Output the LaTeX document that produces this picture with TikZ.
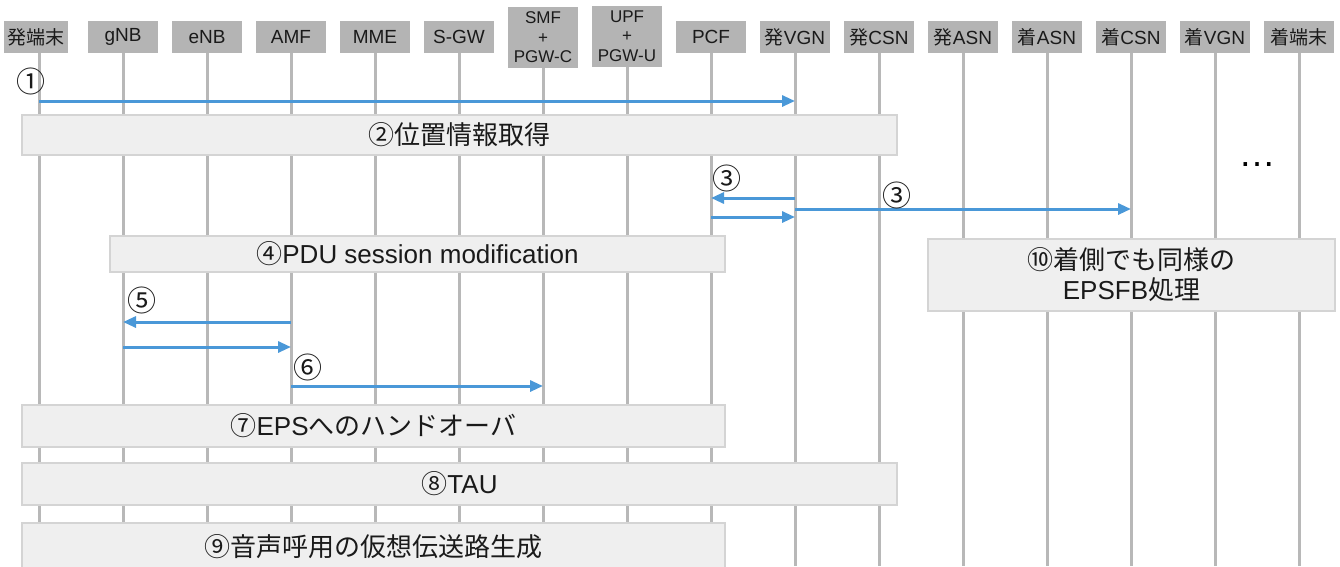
\documentclass[tikz,border=0pt]{standalone}
\usepackage{fontspec}
\setmainfont{Liberation Sans}
\newfontfamily\jp{Noto Sans CJK JP}
\usetikzlibrary{arrows.meta}
\definecolor{hdrgray}{HTML}{B4B4B4}
\definecolor{lifegray}{HTML}{B8B8B8}
\definecolor{boxfill}{HTML}{EFEFEF}
\definecolor{boxline}{HTML}{D4D4D4}
\definecolor{arrowblue}{HTML}{4A98D8}
\definecolor{txt}{HTML}{1A1A1A}
\begin{document}
\begin{tikzpicture}[x=1pt,y=-1pt,
  hdr/.style={fill=hdrgray, text=txt, minimum width=70pt, minimum height=32pt, inner sep=0pt, font=\fontsize{19}{22}\selectfont},
  hdrtall/.style={hdr, minimum height=61pt, align=center, font=\fontsize{17}{19.5}\selectfont},
  life/.style={draw=lifegray, line width=3pt},
  stepbox/.style={fill=boxfill, draw=boxline, line width=1.2pt, text=txt, inner sep=0pt, align=center, font=\fontsize{26}{30}\selectfont},
  msg/.style={draw=arrowblue, line width=3pt, -{Triangle[length=13pt,width=11pt]}},
  num/.style={text=txt, inner sep=0pt, font=\jp\fontsize{29}{29}\selectfont}]
\useasboundingbox (0,0) rectangle (1340,566);
\fill[white] (0,0) rectangle (1340,566);

% header nodes
\node[hdr, minimum width=64pt] (h0) at (36,37) {\jp 発端末};
\node[hdr] (h1) at (123,37) {gNB};
\node[hdr] (h2) at (207,37) {eNB};
\node[hdr] (h3) at (291,37) {AMF};
\node[hdr] (h4) at (375,37) {MME};
\node[hdr] (h5) at (459,37) {S-GW};
\node[hdrtall] (h6) at (543,37.5) {SMF\\+\\PGW-C};
\node[hdrtall] (h7) at (627,36) {UPF\\+\\PGW-U};
\node[hdr] (h8) at (711,37) {PCF};
\node[hdr] (h9) at (795,37) {{\jp 発}VGN};
\node[hdr] (h10) at (879,37) {{\jp 発}CSN};
\node[hdr] (h11) at (963,37) {{\jp 発}ASN};
\node[hdr] (h12) at (1047,37) {{\jp 着}ASN};
\node[hdr] (h13) at (1131,37) {{\jp 着}CSN};
\node[hdr] (h14) at (1215,37) {{\jp 着}VGN};
\node[hdr] (h15) at (1299,37) {\jp 着端末};

% lifelines
\coordinate (l0) at (39,53);
\draw[life] (l0) -- (l0 |- 0,566);
\foreach \i in {1,...,15}{
  \draw[life] (h\i.south) -- (h\i.south |- 0,566);
}

% step boxes
\node[stepbox, minimum width=875pt, minimum height=40pt] (s2) at (459.5,135) {\jp ②位置情報取得};
\node[stepbox, minimum width=615pt, minimum height=36pt] (s4) at (417.5,254) {{\jp ④}PDU session modification};
\node[stepbox, minimum width=407pt, minimum height=72pt] (s10) at (1131.5,275) {\jp ⑩着側でも同様の\\EPSFB{\jp 処理}};
\node[stepbox, minimum width=703pt, minimum height=42pt] (s7) at (373.5,426) {{\jp ⑦}EPS{\jp へのハンドオーバ}};
\node[stepbox, minimum width=875pt, minimum height=42pt] (s8) at (459.5,484) {{\jp ⑧}TAU};
\node[stepbox, minimum width=703pt, minimum height=48pt] (s9) at (373.5,547) {\jp ⑨音声呼用の仮想伝送路生成};

% messages
\draw[msg] (l0 |- 0,101) -- (h9 |- 0,101);
\node[num] (n1) at (31,81) {①};

\draw[msg] (h9 |- 0,198) -- (h8 |- 0,198);
\draw[msg] (h8 |- 0,217) -- (h9 |- 0,217);
\node[num] (n3a) at (727,178) {③};
\draw[msg] (h9 |- 0,209) -- (h13 |- 0,209);
\node[num] (n3b) at (897,195) {③};

\node[text=black, inner sep=0pt, anchor=base, font=\fontsize{37}{37}\selectfont] (dots) at (1257,166) {…};

\draw[msg] (h3 |- 0,322) -- (h1 |- 0,322);
\node[num] (n5) at (142,300) {⑤};
\draw[msg] (h1 |- 0,347) -- (h3 |- 0,347);
\draw[msg] (h3 |- 0,386) -- (h6 |- 0,386);
\node[num] (n6) at (308,367) {⑥};
\end{tikzpicture}
\end{document}
